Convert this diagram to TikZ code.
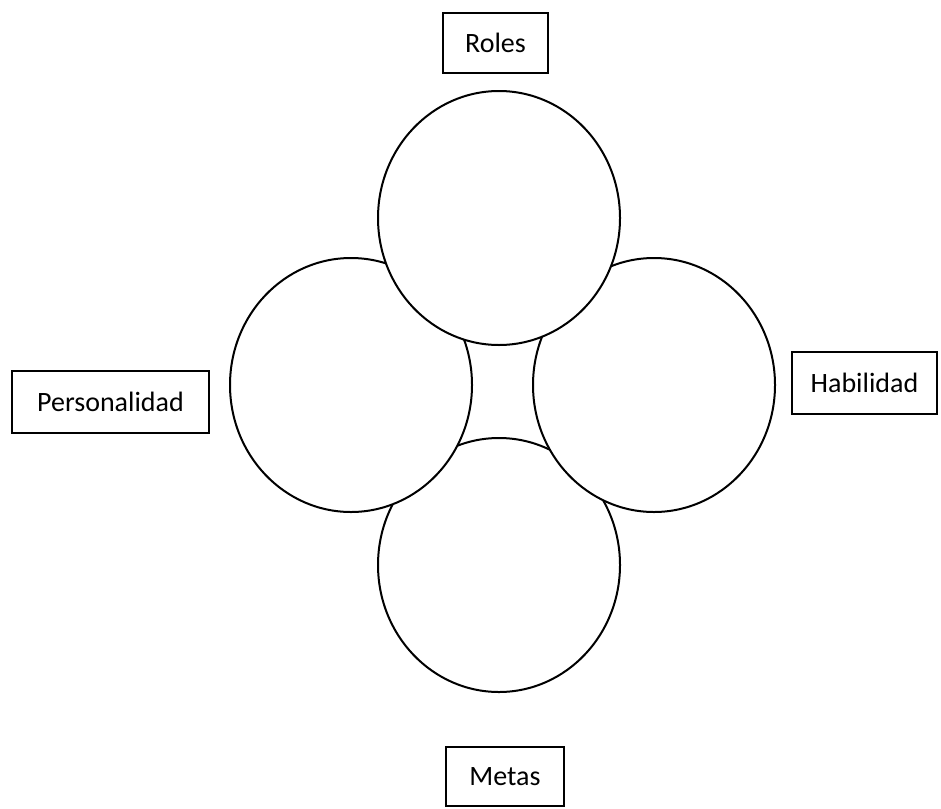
\documentclass[tikz,border=0pt]{standalone}
\usepackage{fontspec}
\setmainfont{Carlito}
\usetikzlibrary{shapes.geometric}
\begin{document}
\begin{tikzpicture}[x=1pt,y=-1pt,
		circ/.style={ellipse,draw,fill=white,line width=2pt,minimum width=242pt,minimum height=254pt,inner sep=0pt},
		lbl/.style={rectangle,draw,line width=2pt,minimum height=62pt,inner sep=0pt,font=\fontsize{28}{32}\selectfont}]
			\useasboundingbox (0,0) rectangle (941,808);
			% circles, bottom one first so the others lie over it
			\node [circ] (metas) at (499,565) {};
			\node [circ] (perso) at (351,385) {};
			\node [circ] (habil) at (654,385) {};
			\node [circ] (roles) at (499,218) {};
			% labels
			\node [lbl,minimum width=105pt,minimum height=60pt] (rolesbox) at (495.5,43) {Roles};
			\node [lbl,minimum width=197pt] (persobox) at (110.5,401.5) {Personalidad};
			\node [lbl,minimum width=145pt] (habilbox) at (864.5,382.5) {Habilidad};
			\node [lbl,minimum width=118pt,minimum height=59pt] (metasbox) at (505,776.5) {Metas};
		\end{tikzpicture}
\end{document}
